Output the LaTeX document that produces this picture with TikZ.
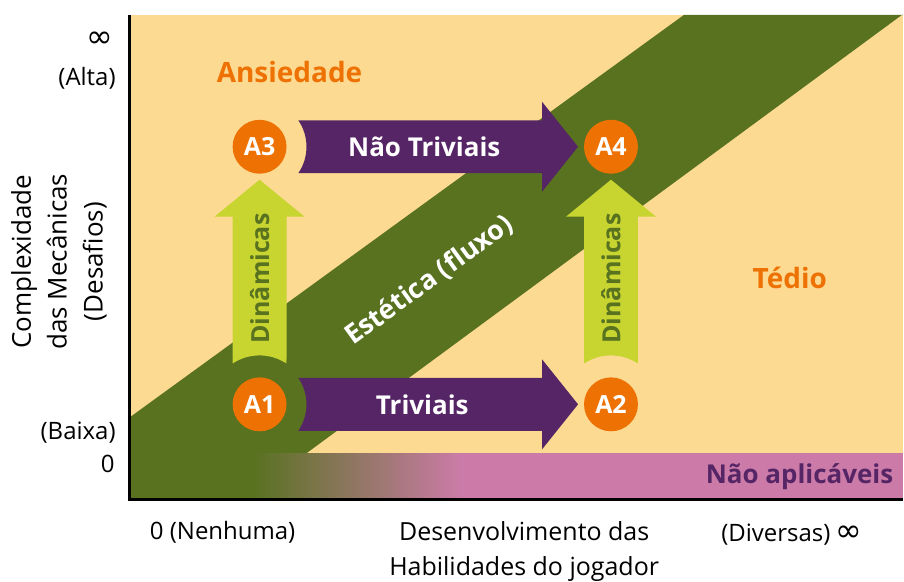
\documentclass[tikz,border=0pt]{standalone}
\usepackage{fontspec}
\setmainfont{Open Sans}
\newfontfamily\symfont{DejaVu Sans}
\usetikzlibrary{calc}
\definecolor{beigeC}{HTML}{FDDA92}
\definecolor{greenC}{HTML}{587220}
\definecolor{pinkC}{HTML}{CC7BA8}
\definecolor{orangeC}{HTML}{EE7203}
\definecolor{purpleC}{HTML}{552566}
\definecolor{limeC}{HTML}{C8D530}
\begin{document}
\begin{tikzpicture}[x=1pt,y=1pt,
  lbl/.style={font=\fontsize{24}{35}\selectfont, text=black, inner sep=0pt, align=center},
  zone/.style={font=\bfseries\fontsize{28}{30}\selectfont, text=orangeC, inner sep=0pt},
  stage/.style={circle, fill=orangeC, minimum size=54pt, inner sep=0pt, text=white, font=\bfseries\fontsize{25}{25}\selectfont},
  bartxt/.style={text=white, font=\bfseries\fontsize{26}{26}\selectfont, inner sep=0pt},
  uptxt/.style={text=greenC, font=\bfseries\fontsize{25}{25}\selectfont, inner sep=0pt, rotate=90},
  infty/.style={font=\symfont\fontsize{32}{32}\selectfont, inner sep=0pt}
]
\fill[white] (0,0) rectangle (904,581);
% background zones
\fill[beigeC] (130,81) rectangle (904,566);
\fill[greenC] (130,163) -- (685,566) -- (904,566) -- (904,566.5) -- (307,127) -- (130,127) -- cycle;
% bottom strip
\fill[greenC] (130,81) rectangle (253.5,127);
\shade[left color=greenC, right color=pinkC] (253,81) rectangle (463,127);
\fill[pinkC] (462.5,81) rectangle (904,127);
% axes
\draw[line width=3pt] (130,566) -- (130,81) -- (904,81);
% stage circles
\node[stage] (A1) at (260,176) {A1};
\node[stage] (A2) at (612,176) {A2};
\node[stage] (A3) at (260,434) {A3};
\node[stage] (A4) at (612,434) {A4};
% purple arrows
\fill[purpleC] ($(A1.center)+(-34.3:47)$) arc[start angle=-34.3, end angle=34.3, radius=47]
  -- ($(A2.center)+(-69,26.5)$) -- ++(0,18.5) -- ($(A2.center)+(-33,0)$)
  -- ($(A2.center)+(-69,-45)$) -- ++(0,18.5) -- cycle;
\fill[purpleC] ($(A3.center)+(-34.3:47)$) arc[start angle=-34.3, end angle=34.3, radius=47]
  -- ($(A4.center)+(-69,26.5)$) -- ++(0,18.5) -- ($(A4.center)+(-33,0)$)
  -- ($(A4.center)+(-69,-45)$) -- ++(0,18.5) -- cycle;
% lime arrows
\fill[limeC] ($(A1.center)+(56.6:49)$) arc[start angle=56.6, end angle=123.4, radius=49]
  -- ($(A3.center)+(-27,-70)$) -- ++(-18,0) -- ($(A3.center)+(0,-33)$)
  -- ($(A3.center)+(45,-70)$) -- ++(-18,0) -- cycle;
\fill[limeC] ($(A2.center)+(56.6:49)$) arc[start angle=56.6, end angle=123.4, radius=49]
  -- ($(A4.center)+(-27,-70)$) -- ++(-18,0) -- ($(A4.center)+(0,-33)$)
  -- ($(A4.center)+(45,-70)$) -- ++(-18,0) -- cycle;
% arrow texts
\node[bartxt] (t1) at (423,176) {Triviais};
\node[bartxt] (t2) at (425,434) {Não Triviais};
\node[uptxt] (d1) at (260,302) {Dinâmicas};
\node[uptxt] (d2) at (612,302) {Dinâmicas};
\node[bartxt, rotate=36, font=\bfseries\fontsize{27}{27}\selectfont] (est) at (430,300) {Estética (fluxo)};
% zone labels
\node[zone] (ans) at (290,509) {Ansiedade};
\node[zone] (ted) at (791,303) {Tédio};
\node[zone, text=purpleC, font=\bfseries\fontsize{26}{26}\selectfont, anchor=east] (na) at (895,104) {Não aplicáveis};
% axis labels
\node[infty] (inf1) at (100,541) {∞};
\node[lbl, anchor=east] (alta) at (116,503) {(Alta)};
\node[lbl, anchor=east] (baixa) at (116,148) {(Baixa)};
\node[lbl] (zero) at (108,116) {0};
\node[lbl, rotate=90, font=\fontsize{26}{36}\selectfont] (ylab) at (59,319) {Complexidade\\das Mecânicas\\(Desafios)};
\node[lbl] (nenh) at (223,48) {0 (Nenhuma)};
\node[lbl, font=\fontsize{25}{35}\selectfont] (xlab) at (525,29) {Desenvolvimento das\\Habilidades do jogador};
\node[lbl, anchor=east] (div) at (832,46) {(Diversas)};
\node[infty, anchor=west] (inf2) at (837,46) {∞};
\end{tikzpicture}
\end{document}
